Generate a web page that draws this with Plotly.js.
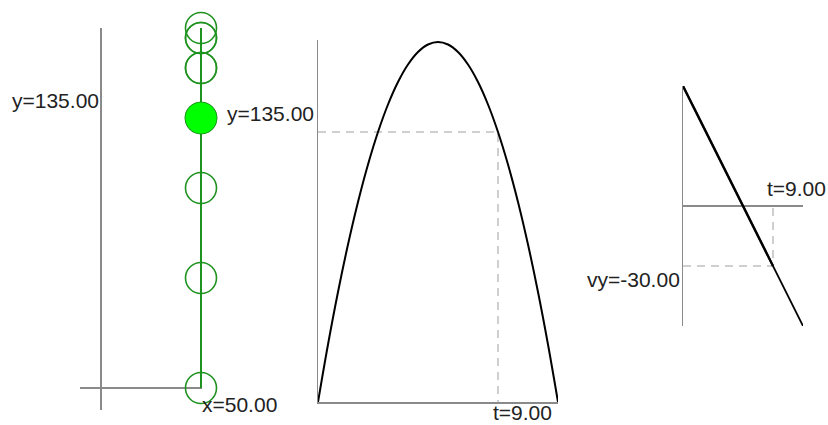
<!DOCTYPE html>
<html>
<head>
<meta charset="utf-8">
<script src="https://cdn.plot.ly/plotly-3.0.1.min.js"></script>
<style>html,body{margin:0;padding:0;background:#fff;}#chart{width:828px;height:425px;}</style>
</head>
<body>
<div id="chart"></div>
<script>
// ---- data ----
const ballX = 50;                                   // horizontal position of the ball
const ballT = [0, 1, 2, 3, 4, 5, 6, 7, 8, 9];        // snapshot times
const ballY = [0, 55, 100, 135, 160, 175, 180, 175, 160, 135]; // heights at snapshots
const pathY = [0, 180];                              // vertical path of the ball
const curveT = [0, 0.5, 1, 1.5, 2, 2.5, 3, 3.5, 4, 4.5, 5, 5.5, 6, 6.5, 7, 7.5, 8, 8.5, 9, 9.5, 10, 10.5, 11, 11.5, 12];
const curveY = [0, 28.75, 55, 78.75, 100, 118.75, 135, 148.75, 160, 168.75, 175, 178.75, 180, 178.75, 175, 168.75, 160, 148.75, 135, 118.75, 100, 78.75, 55, 28.75, 0];
const velT = [0, 12];
const velVy = [60, -60];
const trailT = [0, 9];
const trailVy = [60, -30];
const currentT = 9;
const currentY = 135;
const currentVy = -30;

// ---- layout helpers (pixel -> paper fraction) ----
const W = 828, H = 425;
const px = p => p / W;
const py = p => 1 - p / H;

const axisGray = '#8a8a8a';
const dashGray = '#c0c0c0';
const green = '#1f931f';
const labelFont = {family: 'Liberation Sans, Arial, sans-serif', size: 21, color: '#222'};

const hidden = {showgrid: false, showticklabels: false, ticks: '', fixedrange: true};

const traces = [
  // panel 1: path
  {x: [ballX, ballX], y: pathY, xaxis: 'x', yaxis: 'y', mode: 'lines',
   line: {color: green, width: 2}, hoverinfo: 'skip'},
  // panel 1: snapshots
  {x: ballT.map(() => ballX), y: ballY, xaxis: 'x', yaxis: 'y', mode: 'markers', cliponaxis: false,
   marker: {symbol: 'circle-open', size: 31, color: green, line: {color: green, width: 1.6}}, hoverinfo: 'skip'},
  // panel 1: current ball
  {x: [ballX], y: [currentY], xaxis: 'x', yaxis: 'y', mode: 'markers', cliponaxis: false,
   marker: {symbol: 'circle', size: 31, color: '#00ff00', line: {width: 0}}, hoverinfo: 'skip'},

  // panel 2: dashed guides
  {x: [0, currentT, currentT], y: [currentY, currentY, 0], xaxis: 'x2', yaxis: 'y2', mode: 'lines',
   line: {color: dashGray, width: 1.5, dash: '8px,6px'}, hoverinfo: 'skip'},
  // panel 2: y(t)
  {x: curveT, y: curveY, xaxis: 'x2', yaxis: 'y2', mode: 'lines',
   line: {color: '#000', width: 2, shape: 'spline'}, hoverinfo: 'skip'},

  // panel 3: dashed guides
  {x: [0, currentT, currentT], y: [currentVy, currentVy, 0], xaxis: 'x3', yaxis: 'y3', mode: 'lines',
   line: {color: dashGray, width: 1.5, dash: '8px,6px'}, hoverinfo: 'skip'},
  // panel 3: vy(t)
  {x: velT, y: velVy, xaxis: 'x3', yaxis: 'y3', mode: 'lines',
   line: {color: '#000', width: 1.8}, hoverinfo: 'skip'},
  {x: trailT, y: trailVy, xaxis: 'x3', yaxis: 'y3', mode: 'lines',
   line: {color: '#000', width: 2.4}, hoverinfo: 'skip'}
];

const layout = {
  width: W, height: H,
  margin: {l: 0, r: 0, t: 0, b: 0, pad: 0},
  paper_bgcolor: '#fff', plot_bgcolor: 'rgba(0,0,0,0)',
  showlegend: false,
  xaxis: Object.assign({}, hidden, {domain: [px(80), px(202)], range: [-10.5, 50.5], anchor: 'y',
    zeroline: true, zerolinecolor: axisGray, zerolinewidth: 1.5, showline: false}),
  yaxis: Object.assign({}, hidden, {domain: [py(410), py(28)], range: [-11, 180], anchor: 'x',
    zeroline: true, zerolinecolor: axisGray, zerolinewidth: 1.5, showline: false}),
  xaxis2: Object.assign({}, hidden, {domain: [px(318), px(558)], range: [0, 12], anchor: 'y2',
    zeroline: false, showline: true, linecolor: axisGray, linewidth: 1.5}),
  yaxis2: Object.assign({}, hidden, {domain: [py(402), py(40)], range: [0, 181], anchor: 'x2',
    zeroline: false, showline: true, linecolor: axisGray, linewidth: 1.5}),
  xaxis3: Object.assign({}, hidden, {domain: [px(683), px(803)], range: [0, 12], anchor: 'y3',
    zeroline: false, showline: false}),
  yaxis3: Object.assign({}, hidden, {domain: [py(326), py(86)], range: [-60, 60], anchor: 'x3',
    zeroline: true, zerolinecolor: axisGray, zerolinewidth: 1.5, showline: true, linecolor: axisGray, linewidth: 1.5}),
  annotations: [
    {text: 'y=' + currentY.toFixed(2), xref: 'paper', yref: 'paper', x: px(101), y: py(100),
     xanchor: 'right', yanchor: 'middle', showarrow: false, font: labelFont},
    {text: 'y=' + currentY.toFixed(2), xref: 'paper', yref: 'paper', x: px(225), y: py(113),
     xanchor: 'left', yanchor: 'middle', showarrow: false, font: labelFont},
    {text: 'x=' + ballX.toFixed(2), xref: 'paper', yref: 'paper', x: px(200), y: py(404),
     xanchor: 'left', yanchor: 'middle', showarrow: false, font: labelFont},
    {text: 't=' + currentT.toFixed(2), xref: 'paper', yref: 'paper', x: px(491), y: py(412),
     xanchor: 'left', yanchor: 'middle', showarrow: false, font: labelFont},
    {text: 't=' + currentT.toFixed(2), xref: 'paper', yref: 'paper', x: px(765), y: py(188),
     xanchor: 'left', yanchor: 'middle', showarrow: false, font: labelFont},
    {text: 'vy=' + currentVy.toFixed(2), xref: 'paper', yref: 'paper', x: px(682), y: py(279),
     xanchor: 'right', yanchor: 'middle', showarrow: false, font: labelFont}
  ]
};

Plotly.newPlot('chart', traces, layout, {staticPlot: true, displayModeBar: false});
</script>
</body>
</html>
